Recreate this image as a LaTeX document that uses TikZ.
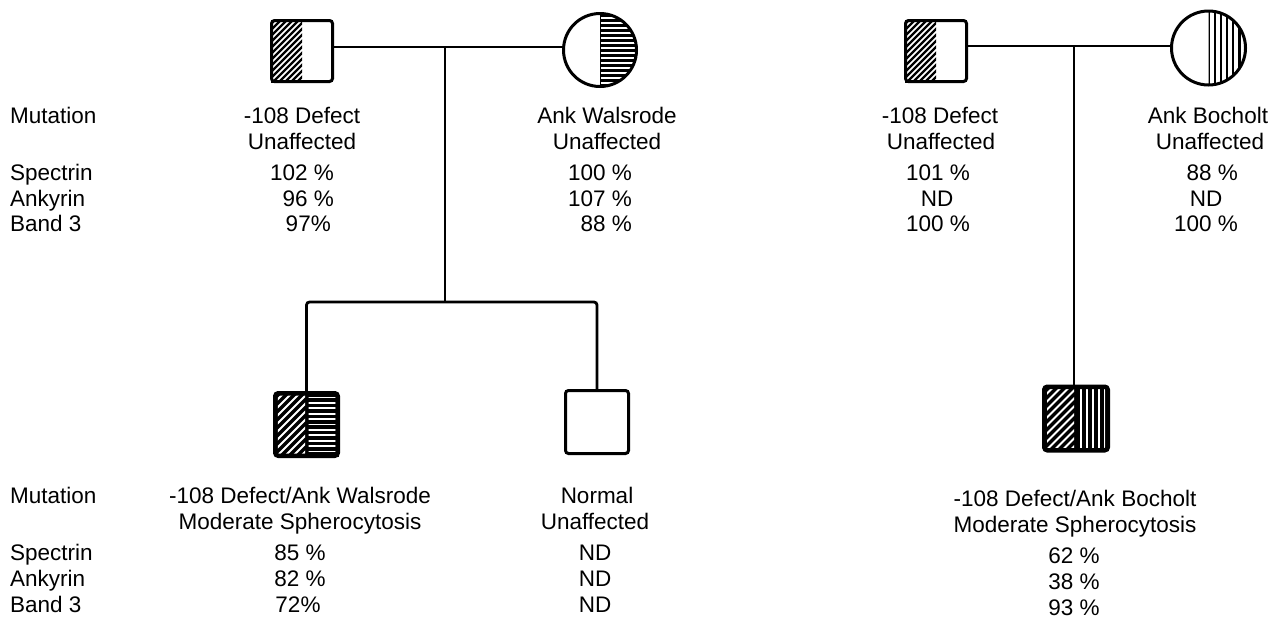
\documentclass[tikz,border=0pt]{standalone}
\usepackage{fontspec}
\setmainfont{Liberation Sans}
\usetikzlibrary{backgrounds}
\newcommand\fs{\fontsize{22.5}{25}\selectfont}
\begin{document}
\begin{tikzpicture}[x=1pt,y=-1pt,
  sym/.style={draw, line width=3pt, minimum size=#1, inner sep=0pt, outer sep=0pt},
  sq/.style={sym=#1, rectangle, rounded corners=3pt},
  sqa/.style={sq=#1, line width=4.5pt},
  circ/.style={sym=#1, circle},
  conn/.style={line width=2.8pt},
  hatch/.style={line width=2.2pt, black},
  whatch/.style={line width=2pt, white},
  lbl/.style={anchor=base, inner sep=0pt, font=\fs},
  lbll/.style={anchor=base west, inner sep=0pt, font=\fs},
]
\useasboundingbox (0,0) rectangle (1279,619);

% ---------- symbols ----------
\node[sq=61]    (f1) at (302,51) {};
\node[circ=73]  (m1) at (600,50) {};
\node[sqa=62.5] (c1) at (306.5,424.5) {};
\node[sq=63]    (c2) at (597,422) {};
\node[sq=61]    (f2) at (936,51) {};
\node[circ=74]  (m2) at (1208.5,48) {};
\node[sqa=63.5] (c3) at (1076,418.5) {};

% ---------- fills ----------
\begin{scope}[on background layer]
  \fill[white] (0,0) rectangle (1279,619);
  % father 1: left half diagonal
  \begin{scope}[shift={(f1.center)}]
    \clip (-31,-31) rectangle (0,31);
    \foreach \k in {-110,-104,...,0} \draw[hatch] (\k,40) -- ++(80,-80);
  \end{scope}
  % mother 1: right half horizontal
  \begin{scope}[shift={(m1.center)}]
    \clip (0,-40) rectangle (40,40);
    \clip (0,0) circle (36.5);
    \foreach \k in {-40,-35,...,40} \draw[line width=3pt] (0,\k) -- (40,\k);
    \draw[line width=2pt] (0,-40) -- (0,40);
  \end{scope}
  % child 1: diagonal + horizontal (black with white lines)
  \begin{scope}[shift={(c1.center)}]
    \fill (-32,-32) rectangle (32,32);
    \begin{scope}
      \clip (-29,-29) rectangle (-1.5,29);
      \foreach \k in {-110,-102,...,0} \draw[whatch] (\k,40) -- ++(80,-80);
    \end{scope}
    \begin{scope}
      \clip (2,-29) rectangle (29,29);
      \foreach \k in {-27,-21.6,...,30} \draw[line width=1.8pt, white] (0,\k) -- (32,\k);
    \end{scope}
  \end{scope}
  % father 2: left half diagonal
  \begin{scope}[shift={(f2.center)}]
    \clip (-31,-31) rectangle (0,31);
    \foreach \k in {-110,-104,...,0} \draw[hatch] (\k,40) -- ++(80,-80);
  \end{scope}
  % mother 2: right half vertical
  \begin{scope}[shift={(m2.center)}]
    \clip (0,-40) rectangle (40,40);
    \clip (0,0) circle (37);
    \foreach \k in {0,6.2,...,40} \draw[line width=2.2pt] (\k,-40) -- (\k,40);
  \end{scope}
  % child 3: diagonal + vertical (black with white lines)
  \begin{scope}[shift={(c3.center)}]
    \fill (-32,-32) rectangle (32,32);
    \begin{scope}
      \clip (-29,-29) rectangle (-2,29);
      \foreach \k in {-110,-102,...,0} \draw[whatch] (\k,40) -- ++(80,-80);
    \end{scope}
    \begin{scope}
      \clip (2,-29) rectangle (29,29);
      \foreach \k in {5,11,...,30} \draw[line width=2.2pt, white] (\k,-32) -- (\k,32);
    \end{scope}
  \end{scope}
\end{scope}

% ---------- connectors ----------
\coordinate (mar1) at (445,47);
\coordinate (sib1) at (445,302);
\coordinate (mar2) at (1074,46);
\draw[conn] (f1.east |- mar1) -- (m1.west |- mar1);
\draw[conn] (mar1) -- (sib1);
\draw[conn, rounded corners=3pt] (c1.north) |- (sib1) -| (c2.north);
\draw[conn] (f2.east |- mar2) -- (m2.west |- mar2);
\draw[conn] (mar2) -- (mar2 |- c3.north);

% ---------- row labels ----------
\node[lbll] (lt1) at (10,123) {Mutation};
\node[lbll] (lt3) at (10,180) {Spectrin};
\node[lbll] (lt4) at (10,206) {Ankyrin};
\node[lbll] (lt5) at (10,231) {Band 3};
\node[lbll] (lb1) at (10,503) {Mutation};
\node[lbll] (lb3) at (10,560) {Spectrin};
\node[lbll] (lb4) at (10,586) {Ankyrin};
\node[lbll] (lb5) at (10,612) {Band 3};

% ---------- father 1 ----------
\node[lbl] (f1t1) at (302,123) {-108 Defect};
\node[lbl] (f1t2) at (302,149) {Unaffected};
\node[lbl] (f1t3) at (302,180) {102 \%};
\node[lbl] (f1t4) at (302,206) {\hphantom{1}96 \%};
\node[lbl] (f1t5) at (302,231) {\hphantom{1}97\%};
% ---------- mother 1 ----------
\node[lbl] (m1t1) at (607,123) {Ank Walsrode};
\node[lbl] (m1t2) at (607,149) {Unaffected};
\node[lbl] (m1t3) at (600,180) {100 \%};
\node[lbl] (m1t4) at (600,206) {107 \%};
\node[lbl] (m1t5) at (600,231) {\hphantom{1}88 \%};
% ---------- child 1 ----------
\node[lbl] (c1t1) at (300,503) {-108 Defect/Ank Walsrode};
\node[lbl] (c1t2) at (300,529) {Moderate Spherocytosis};
\node[lbl] (c1t3) at (300,560) {85 \%};
\node[lbl] (c1t4) at (300,586) {82 \%};
\node[lbl] (c1t5) at (298,612) {72\%};
% ---------- child 2 ----------
\node[lbl] (c2t1) at (597,503) {Normal};
\node[lbl] (c2t2) at (595,529) {Unaffected};
\node[lbl] (c2t3) at (595,560) {ND};
\node[lbl] (c2t4) at (595,586) {ND};
\node[lbl] (c2t5) at (595,612) {ND};
% ---------- father 2 ----------
\node[lbl] (f2t1) at (940,123) {-108 Defect};
\node[lbl] (f2t2) at (941,149) {Unaffected};
\node[lbl] (f2t3) at (938,180) {101 \%};
\node[lbl] (f2t4) at (937,206) {ND};
\node[lbl] (f2t5) at (938,231) {100 \%};
% ---------- mother 2 ----------
\node[lbl] (m2t1) at (1208,123) {Ank Bocholt};
\node[lbl] (m2t2) at (1210,149) {Unaffected};
\node[lbl] (m2t3) at (1206,180) {\hphantom{1}88 \%};
\node[lbl] (m2t4) at (1206,206) {ND};
\node[lbl] (m2t5) at (1206,231) {100 \%};
% ---------- child 3 ----------
\node[lbl] (c3t1) at (1075,506) {-108 Defect/Ank Bocholt};
\node[lbl] (c3t2) at (1075,532) {Moderate Spherocytosis};
\node[lbl] (c3t3) at (1074,563) {62 \%};
\node[lbl] (c3t4) at (1074,589) {38 \%};
\node[lbl] (c3t5) at (1074,615) {93 \%};
\end{tikzpicture}
\end{document}
